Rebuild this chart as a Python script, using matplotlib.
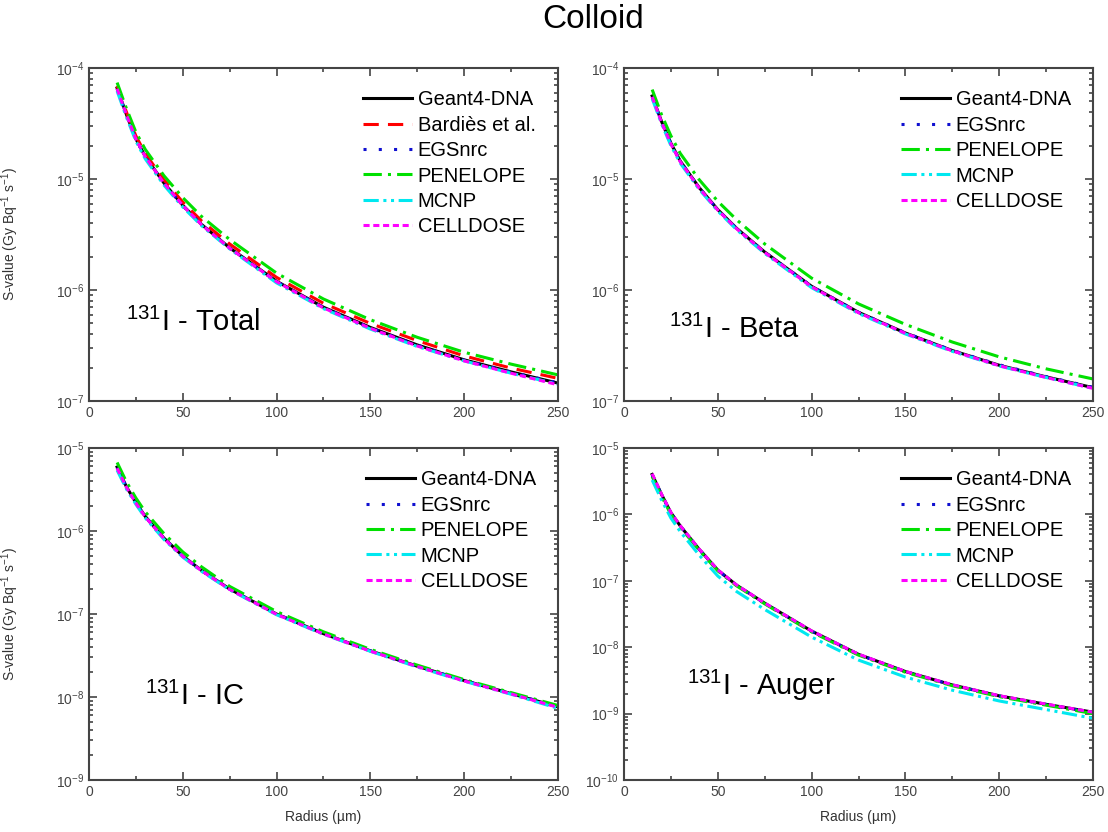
import numpy as np
import matplotlib
matplotlib.use("Agg")
import matplotlib.pyplot as plt
from matplotlib.ticker import NullFormatter, MultipleLocator, FixedLocator, LogFormatterSciNotation

plt.rcParams['font.family'] = ['Liberation Sans', 'DejaVu Sans']
plt.rcParams['mathtext.fontset'] = 'custom'
plt.rcParams['mathtext.rm'] = 'Liberation Sans'
plt.rcParams['mathtext.it'] = 'Liberation Sans:italic'
plt.rcParams['mathtext.bf'] = 'Liberation Sans:bold'

# radius in micrometres
radius = [15, 20, 25, 30, 40, 50, 60, 75, 100, 125, 150, 175, 200, 225, 250]

# 131I - Total
total_geant4 = [6.6e-5, 3.8e-5, 2.3e-5, 1.6e-5, 9.2e-6, 5.8e-6, 3.9e-6, 2.4e-6, 1.2e-6, 7.0e-7, 4.6e-7, 3.2e-7, 2.35e-7, 1.83e-7, 1.45e-7]
total_bardies = [6.9e-5, 4.0e-5, 2.45e-5, 1.7e-5, 9.8e-6, 6.2e-6, 4.2e-6, 2.6e-6, 1.3e-6, 7.6e-7, 5.0e-7, 3.5e-7, 2.55e-7, 1.98e-7, 1.6e-7]
total_egsnrc = [6.5e-5, 3.75e-5, 2.28e-5, 1.58e-5, 9.1e-6, 5.75e-6, 3.88e-6, 2.38e-6, 1.19e-6, 6.95e-7, 4.55e-7, 3.18e-7, 2.33e-7, 1.82e-7, 1.46e-7]
total_penelope = [7.4e-5, 4.3e-5, 2.65e-5, 1.85e-5, 1.07e-5, 6.8e-6, 4.6e-6, 2.85e-6, 1.42e-6, 8.3e-7, 5.4e-7, 3.75e-7, 2.75e-7, 2.15e-7, 1.72e-7]
total_mcnp = [6.2e-5, 3.6e-5, 2.2e-5, 1.52e-5, 8.8e-6, 5.6e-6, 3.8e-6, 2.35e-6, 1.16e-6, 6.8e-7, 4.45e-7, 3.1e-7, 2.3e-7, 1.78e-7, 1.42e-7]
total_celldose = [6.5e-5, 3.78e-5, 2.29e-5, 1.59e-5, 9.15e-6, 5.78e-6, 3.88e-6, 2.38e-6, 1.19e-6, 6.9e-7, 4.52e-7, 3.13e-7, 2.3e-7, 1.78e-7, 1.4e-7]

# 131I - Beta
beta_geant4 = [5.6e-5, 3.3e-5, 2.1e-5, 1.45e-5, 8.4e-6, 5.3e-6, 3.6e-6, 2.2e-6, 1.08e-6, 6.3e-7, 4.1e-7, 2.85e-7, 2.1e-7, 1.65e-7, 1.32e-7]
beta_egsnrc = [5.5e-5, 3.27e-5, 2.08e-5, 1.44e-5, 8.35e-6, 5.28e-6, 3.58e-6, 2.19e-6, 1.08e-6, 6.3e-7, 4.12e-7, 2.86e-7, 2.12e-7, 1.66e-7, 1.33e-7]
beta_penelope = [6.4e-5, 3.8e-5, 2.45e-5, 1.7e-5, 9.9e-6, 6.3e-6, 4.3e-6, 2.6e-6, 1.28e-6, 7.5e-7, 4.9e-7, 3.4e-7, 2.5e-7, 1.95e-7, 1.58e-7]
beta_mcnp = [5.3e-5, 3.15e-5, 2.0e-5, 1.39e-5, 8.1e-6, 5.15e-6, 3.5e-6, 2.14e-6, 1.05e-6, 6.15e-7, 4.02e-7, 2.8e-7, 2.07e-7, 1.63e-7, 1.3e-7]
beta_celldose = [5.5e-5, 3.25e-5, 2.07e-5, 1.43e-5, 8.3e-6, 5.25e-6, 3.57e-6, 2.18e-6, 1.07e-6, 6.25e-7, 4.07e-7, 2.83e-7, 2.08e-7, 1.63e-7, 1.3e-7]

# 131I - IC
ic_geant4 = [5.9e-6, 3.4e-6, 2.2e-6, 1.5e-6, 8.2e-7, 5.0e-7, 3.35e-7, 2.0e-7, 1.0e-7, 5.8e-8, 3.6e-8, 2.35e-8, 1.58e-8, 1.1e-8, 7.6e-9]
ic_egsnrc = [5.8e-6, 3.38e-6, 2.18e-6, 1.49e-6, 8.15e-7, 4.98e-7, 3.33e-7, 1.99e-7, 1.0e-7, 5.8e-8, 3.6e-8, 2.35e-8, 1.58e-8, 1.1e-8, 7.7e-9]
ic_penelope = [6.7e-6, 3.9e-6, 2.5e-6, 1.7e-6, 9.3e-7, 5.6e-7, 3.7e-7, 2.15e-7, 1.07e-7, 6.1e-8, 3.75e-8, 2.42e-8, 1.62e-8, 1.13e-8, 7.9e-9]
ic_mcnp = [5.4e-6, 3.2e-6, 2.1e-6, 1.44e-6, 7.9e-7, 4.85e-7, 3.27e-7, 1.96e-7, 9.8e-8, 5.7e-8, 3.55e-8, 2.3e-8, 1.55e-8, 1.08e-8, 7.3e-9]
ic_celldose = [5.7e-6, 3.35e-6, 2.17e-6, 1.48e-6, 8.1e-7, 4.95e-7, 3.32e-7, 1.98e-7, 9.9e-8, 5.75e-8, 3.57e-8, 2.33e-8, 1.56e-8, 1.09e-8, 7.5e-9]

# 131I - Auger
auger_geant4 = [4.0e-6, 2.0e-6, 1.06e-6, 6.7e-7, 3.0e-7, 1.45e-7, 8.6e-8, 4.6e-8, 1.75e-8, 7.8e-9, 4.3e-9, 2.7e-9, 1.85e-9, 1.38e-9, 1.05e-9]
auger_egsnrc = [3.95e-6, 1.98e-6, 1.05e-6, 6.65e-7, 2.98e-7, 1.44e-7, 8.55e-8, 4.58e-8, 1.74e-8, 7.75e-9, 4.28e-9, 2.69e-9, 1.84e-9, 1.37e-9, 1.04e-9]
auger_penelope = [3.7e-6, 1.88e-6, 1.0e-6, 6.4e-7, 2.9e-7, 1.41e-7, 8.4e-8, 4.5e-8, 1.7e-8, 7.6e-9, 4.2e-9, 2.63e-9, 1.8e-9, 1.34e-9, 1.0e-9]
auger_mcnp = [3.3e-6, 1.65e-6, 8.8e-7, 5.5e-7, 2.45e-7, 1.18e-7, 6.9e-8, 3.7e-8, 1.42e-8, 6.4e-9, 3.55e-9, 2.25e-9, 1.55e-9, 1.15e-9, 8.5e-10]
auger_celldose = [4.1e-6, 2.02e-6, 1.07e-6, 6.75e-7, 3.02e-7, 1.46e-7, 8.65e-8, 4.62e-8, 1.76e-8, 7.85e-9, 4.32e-9, 2.72e-9, 1.86e-9, 1.39e-9, 1.05e-9]

styles = {
    'Geant4-DNA': dict(color='black', linestyle='-'),
    'Bardiès et al.': dict(color='#ff0000', linestyle=(0, (5, 3))),
    'EGSnrc': dict(color='#1010d0', linestyle=(0, (1, 4))),
    'PENELOPE': dict(color='#00e000', linestyle=(0, (6, 2, 1, 2))),
    'MCNP': dict(color='#00e8f0', linestyle=(0, (5, 1.5, 1, 1.5, 1, 1.5))),
    'CELLDOSE': dict(color='#ff00ff', linestyle=(0, (2, 1.2))),
}

panels = [
    dict(label='Total', decades=(-7, -4), pos=[0.0803, 0.518, 0.4233, 0.4002],
         text_xy=(0.079, 0.21),
         series=[('Geant4-DNA', total_geant4), ('Bardiès et al.', total_bardies),
                 ('EGSnrc', total_egsnrc), ('PENELOPE', total_penelope),
                 ('MCNP', total_mcnp), ('CELLDOSE', total_celldose)]),
    dict(label='Beta', decades=(-7, -4), pos=[0.5632, 0.518, 0.4233, 0.4002],
         text_xy=(0.095, 0.19),
         series=[('Geant4-DNA', beta_geant4), ('EGSnrc', beta_egsnrc),
                 ('PENELOPE', beta_penelope), ('MCNP', beta_mcnp),
                 ('CELLDOSE', beta_celldose)]),
    dict(label='IC', decades=(-9, -5), pos=[0.0803, 0.0625, 0.4233, 0.399],
         text_xy=(0.119, 0.226),
         series=[('Geant4-DNA', ic_geant4), ('EGSnrc', ic_egsnrc),
                 ('PENELOPE', ic_penelope), ('MCNP', ic_mcnp),
                 ('CELLDOSE', ic_celldose)]),
    dict(label='Auger', decades=(-10, -5), pos=[0.5632, 0.0625, 0.4233, 0.399],
         text_xy=(0.135, 0.255),
         series=[('Geant4-DNA', auger_geant4), ('EGSnrc', auger_egsnrc),
                 ('PENELOPE', auger_penelope), ('MCNP', auger_mcnp),
                 ('CELLDOSE', auger_celldose)]),
]

fig = plt.figure(figsize=(11.08, 8.32), dpi=100)
fig.text(0.535, 0.976, 'Colloid', ha='center', va='center', fontsize=24)

for i, p in enumerate(panels):
    ax = fig.add_axes(p['pos'])
    for name, vals in p['series']:
        ax.plot(radius, vals, lw=2.2, label=name, **styles[name])
    lo, hi = p['decades']
    ax.set_yscale('log')
    ax.set_xlim(0, 250)
    ax.set_ylim(10.0 ** lo, 10.0 ** hi)
    ax.xaxis.set_major_locator(MultipleLocator(50))
    ax.xaxis.set_minor_locator(MultipleLocator(25))
    # only ticks inside the range, so no hidden labels hang outside
    exps = np.arange(lo, hi + 1)
    ax.yaxis.set_major_locator(FixedLocator(10.0 ** exps))
    ax.yaxis.set_major_formatter(LogFormatterSciNotation())
    minors = [m * 10.0 ** e for e in exps[:-1] for m in range(2, 10)]
    ax.yaxis.set_minor_locator(FixedLocator(minors))
    ax.yaxis.set_minor_formatter(NullFormatter())
    ax.tick_params(which='both', direction='in', top=True, right=True,
                   colors='#444444', labelsize=10, width=1.2)
    ax.tick_params(which='major', length=6)
    ax.tick_params(which='minor', length=3)
    for s in ax.spines.values():
        s.set_linewidth(1.5)
        s.set_color('#444444')
    if i % 2 == 0:
        ax.set_ylabel('S-value (Gy Bq$^{-1}$ s$^{-1}$)', fontsize=10, color='#333333')
        ax.yaxis.set_label_coords(-0.145, 0.5)
    if i >= 2:
        ax.set_xlabel('Radius (µm)', fontsize=10, color='#333333', labelpad=8)
    ax.text(p['text_xy'][0], p['text_xy'][1], '$^{131}$I - ' + p['label'],
            transform=ax.transAxes, fontsize=21, va='baseline', ha='left')
    ax.legend(loc='upper right', frameon=False, fontsize=14.5, handlelength=2.4,
              handletextpad=0.3, labelspacing=0.32, borderaxespad=0.7)

fig.savefig('out.png', dpi=100)
